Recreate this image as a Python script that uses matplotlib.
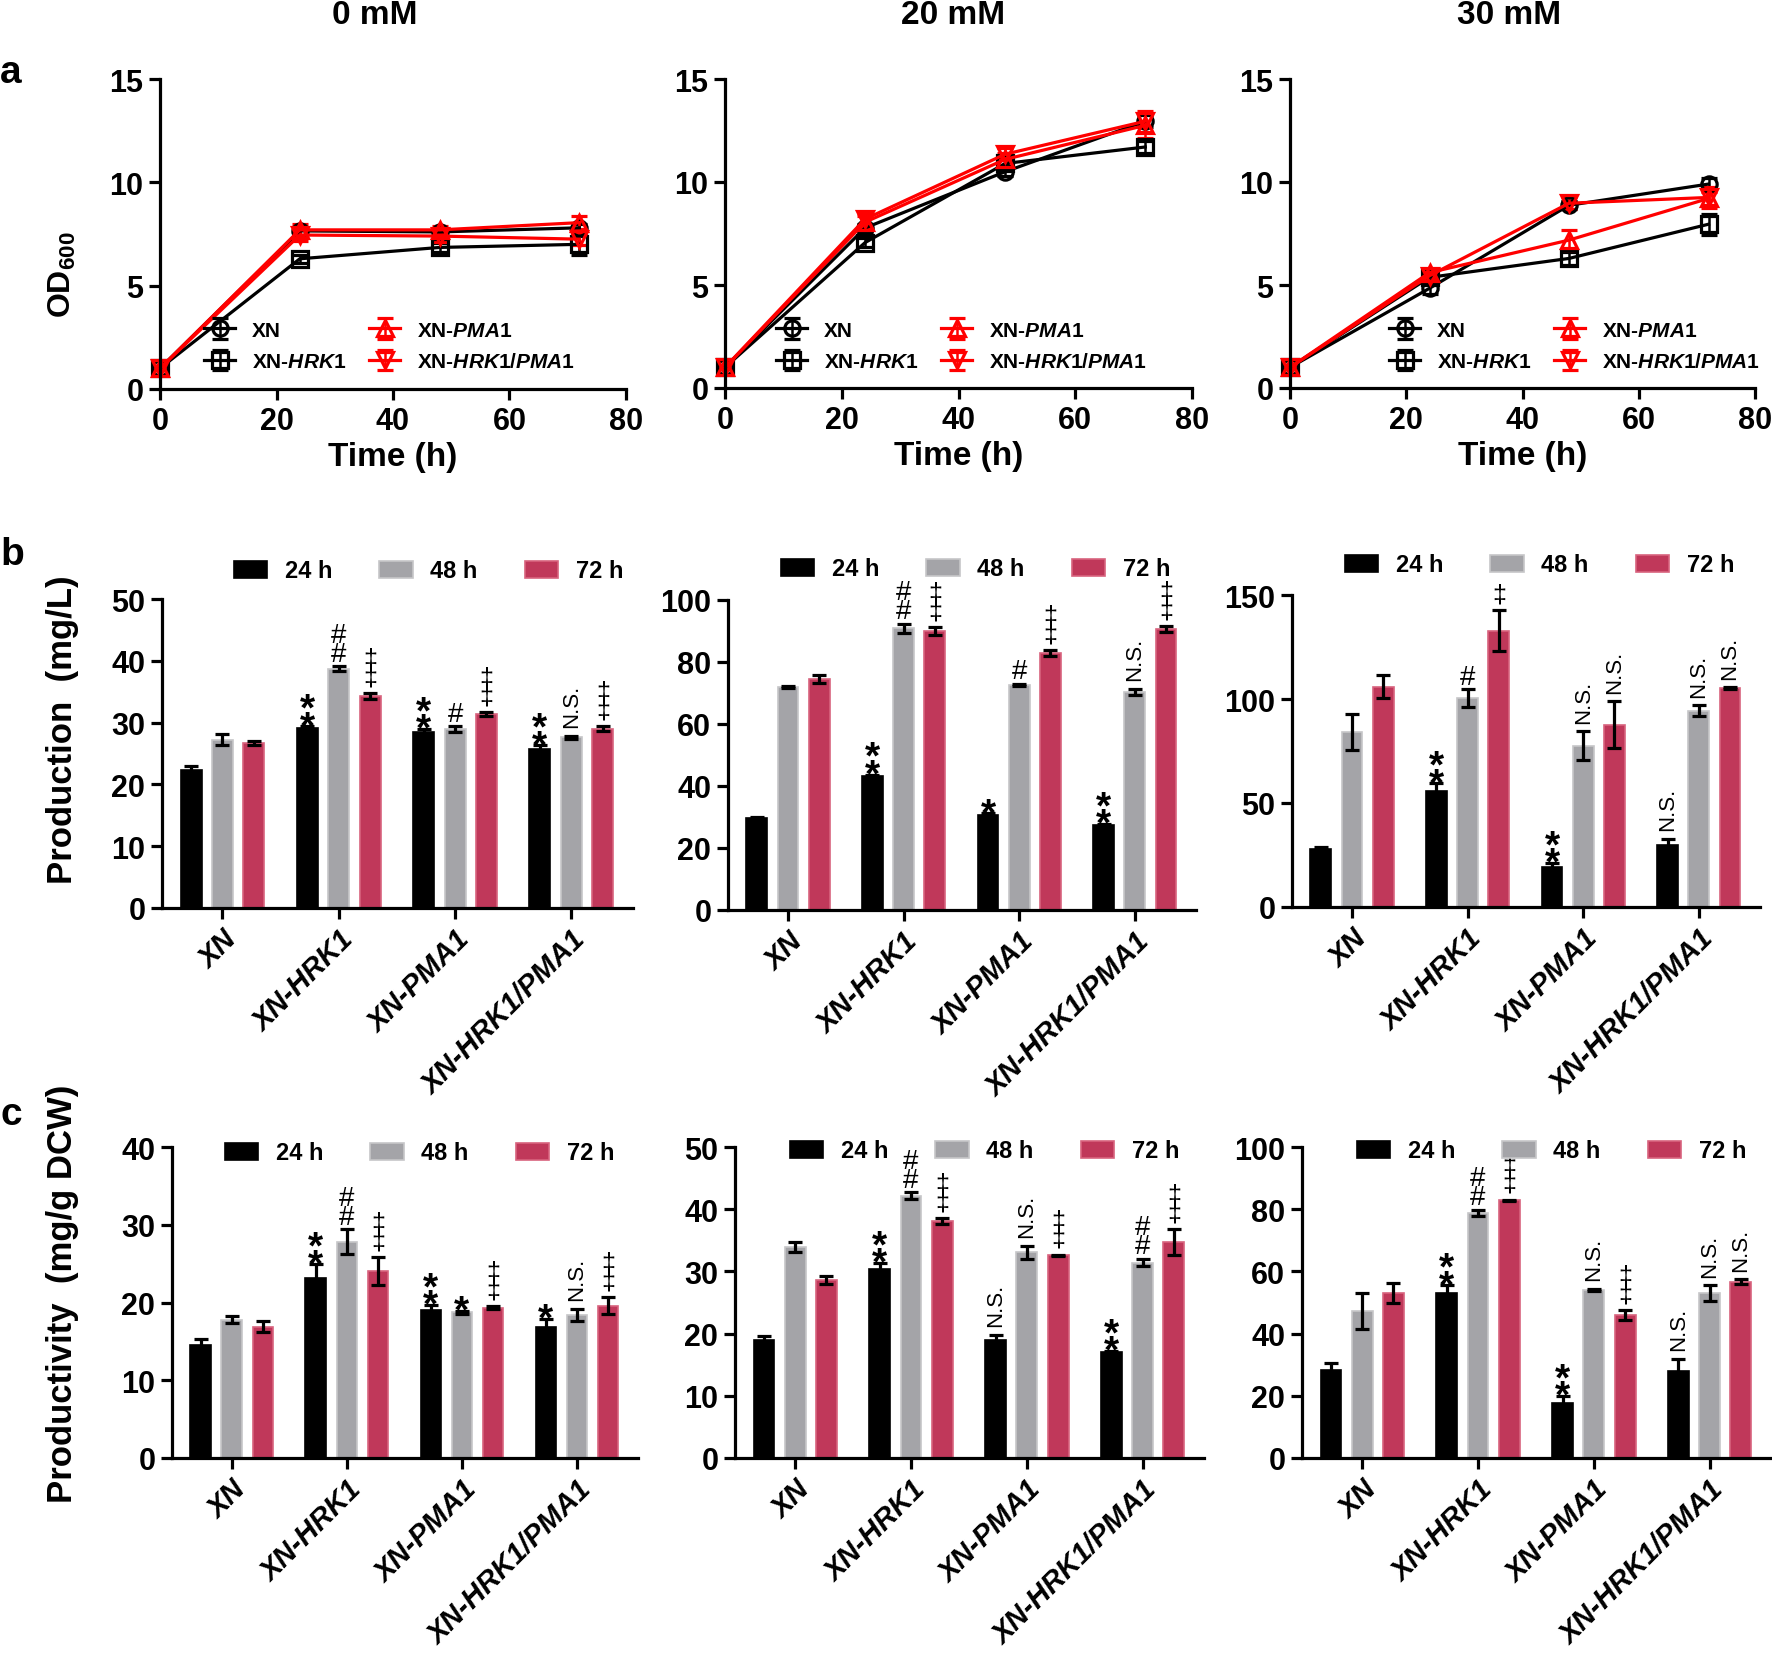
import numpy as np
import matplotlib
matplotlib.use('Agg')
import matplotlib.pyplot as plt

plt.rcParams['font.family'] = ['Liberation Sans', 'DejaVu Sans']
plt.rcParams['font.weight'] = 'bold'
plt.rcParams['axes.labelweight'] = 'bold'
plt.rcParams['mathtext.fontset'] = 'custom'
plt.rcParams['mathtext.rm'] = 'Liberation Sans:bold'
plt.rcParams['mathtext.it'] = 'Liberation Sans:italic:bold'
plt.rcParams['mathtext.bf'] = 'Liberation Sans:bold'

# ---- data ----
time_h = [0, 24, 48, 72]
strains = ['XN', 'XN-HRK1', 'XN-PMA1', 'XN-HRK1/PMA1']
times = ['24 h', '48 h', '72 h']

# OD600 growth curves, one row per strain (XN, HRK1, PMA1, HRK1/PMA1)
od_0mM = [[1.0, 7.65, 7.6, 7.8], [1.0, 6.3, 6.85, 7.0], [1.0, 7.7, 7.7, 8.05], [1.0, 7.45, 7.4, 7.25]]
od_0mM_err = [[0.1, 0.2, 0.2, 0.2], [0.1, 0.2, 0.2, 0.5], [0.1, 0.3, 0.2, 0.3], [0.1, 0.3, 0.3, 0.3]]
od_20mM = [[1.0, 7.77, 10.5, 12.95], [1.0, 7.06, 10.9, 11.7], [1.0, 8.05, 11.1, 12.75], [1.0, 8.2, 11.35, 12.95]]
od_20mM_err = [[0.1, 0.2, 0.2, 0.3], [0.1, 0.2, 0.2, 0.3], [0.1, 0.3, 0.3, 0.6], [0.1, 0.3, 0.3, 0.5]]
od_30mM = [[1.0, 4.84, 8.87, 9.9], [1.0, 5.37, 6.29, 7.95], [1.0, 5.6, 7.18, 9.2], [1.0, 5.45, 8.97, 9.25]]
od_30mM_err = [[0.1, 0.3, 0.2, 0.3], [0.1, 0.2, 0.3, 0.5], [0.1, 0.2, 0.5, 0.3], [0.1, 0.2, 0.3, 0.5]]

# production (mg/L), one row per time point (24, 48, 72 h)
prod_0mM = [[22.4, 29.1, 28.4, 25.8], [27.2, 38.7, 28.9, 27.6], [26.75, 34.25, 31.4, 29.0]]
prod_0mM_err = [[0.5, 0.3, 0.6, 0.5], [0.9, 0.4, 0.5, 0.3], [0.3, 0.5, 0.3, 0.4]]
prod_0mM_sig = [['', '**', '**', '**'], ['', '##', '#', 'N.S.'], ['', '‡‡', '‡‡', '‡‡']]

prod_20mM = [[29.8, 43.2, 30.75, 27.5], [71.9, 90.9, 72.7, 70.4], [74.5, 90.0, 82.9, 90.6]]
prod_20mM_err = [[0.3, 0.5, 0.4, 0.3], [0.3, 1.5, 0.3, 1.0], [1.2, 1.2, 1.0, 1.0]]
prod_20mM_sig = [['', '**', '*', '**'], ['', '##', '#', 'N.S.'], ['', '‡‡', '‡‡', '‡‡']]

prod_30mM = [[27.7, 56.0, 19.2, 29.9], [84.0, 100.5, 77.6, 94.4], [106.0, 132.9, 87.6, 105.3]]
prod_30mM_err = [[1.0, 3.5, 2.0, 3.0], [8.6, 4.2, 7.0, 2.5], [5.4, 9.9, 11.2, 0.5]]
prod_30mM_sig = [['', '**', '**', 'N.S.'], ['', '#', 'N.S.', 'N.S.'], ['', '‡', 'N.S.', 'N.S.']]

# productivity (mg/g DCW)
pdv_0mM = [[14.55, 23.1, 19.0, 16.9], [17.8, 27.8, 18.75, 18.4], [16.9, 24.0, 19.35, 19.6]]
pdv_0mM_err = [[0.7, 1.8, 0.7, 1.0], [0.5, 1.6, 0.2, 0.8], [0.7, 1.8, 0.2, 1.1]]
pdv_0mM_sig = [['', '**', '**', '*'], ['', '##', '*', 'N.S.'], ['', '‡‡', '‡‡', '‡‡']]

pdv_20mM = [[19.05, 30.4, 19.05, 17.0], [33.85, 42.2, 33.05, 31.4], [28.65, 38.1, 32.6, 34.7]]
pdv_20mM_err = [[0.5, 1.0, 0.8, 0.2], [0.8, 0.5, 1.1, 0.6], [0.6, 0.5, 0.1, 2.1]]
pdv_20mM_sig = [['', '**', 'N.S.', '**'], ['', '##', 'N.S.', '##'], ['', '‡‡', '‡‡', '‡‡']]

pdv_30mM = [[28.4, 53.1, 17.7, 28.1], [47.2, 78.75, 54.0, 53.1], [53.1, 82.8, 46.0, 56.65]]
pdv_30mM_err = [[2.0, 2.4, 2.3, 3.8], [5.8, 1.0, 0.4, 2.5], [3.3, 0.3, 1.5, 0.8]]
pdv_30mM_sig = [['', '**', '**', 'N.S.'], ['', '##', 'N.S.', 'N.S.'], ['', '‡‡', '‡‡', 'N.S.']]

# ---- figure ----
W, H = 1772, 1656
fig = plt.figure(figsize=(W / 100, H / 100), dpi=100)


def axes_px(l, r, t, b):
    return fig.add_axes([l / W, 1 - b / H, (r - l) / W, (b - t) / H])


def style_axes(ax):
    for s in ['top', 'right']:
        ax.spines[s].set_visible(False)
    for s in ['left', 'bottom']:
        ax.spines[s].set_linewidth(2.3)
    ax.tick_params(width=2.3, length=8, labelsize=22, pad=4)


line_styles = [('XN', 'black', 'o'),
               ('XN-$\\mathit{HRK1}$', 'black', 's'),
               ('XN-$\\mathit{PMA1}$', '#ff0000', '^'),
               ('XN-$\\mathit{HRK1/PMA1}$', '#ff0000', 'v')]


def line_panel(box, vals, errs, leg_x):
    ax = axes_px(*box)
    for (lab, col, mk), v, e in zip(line_styles, vals, errs):
        cont = ax.errorbar(time_h, v, yerr=e, color=col, marker=mk, ms=11, mfc='none',
                           mew=2.3, lw=2.3, capsize=6, elinewidth=1.8, capthick=1.8, label=lab)
        for art in cont.get_children():
            art.set_clip_on(False)
    ax.set_xlim(0, 80)
    ax.set_ylim(0, 15)
    ax.set_xticks([0, 20, 40, 60, 80])
    ax.set_yticks([0, 5, 10, 15])
    style_axes(ax)
    ax.set_xlabel('Time (h)', fontsize=24, labelpad=4)
    ax.legend(loc='center left', bbox_to_anchor=(leg_x / W, 1 - 347 / H),
              bbox_transform=fig.transFigure, ncol=2, frameon=False, fontsize=15,
              borderpad=0, borderaxespad=0, handlelength=1.5, handletextpad=0.8,
              columnspacing=1.1, labelspacing=0.6)
    return ax


bar_colors = [('black', 'black'), ('#a4a4a8', '#c6c6c8'), ('#c0385a', '#d8637e')]

# fontsize, weight, line spacing, extra vertical shift (in font sizes) for stacked symbols
sym_style = {'*': (28, 'bold', 0.34, -0.63),
             '#': (20, 'normal', 0.64, -0.21),
             '‡': (18, 'normal', 0.72, -0.07)}


def mark_sig(ax, x, y, s):
    if s == 'N.S.':
        ax.annotate(s, (x, y), xytext=(0, 6), textcoords='offset points', rotation=90,
                    ha='center', va='bottom', fontsize=16, fontweight='normal',
                    annotation_clip=False)
        return
    fs, fw, ls, shift = sym_style[s[0]]
    ax.annotate('\n'.join(s), (x, y), xytext=(0, 4 + shift * fs), textcoords='offset points',
                ha='center', va='bottom', multialignment='center', linespacing=ls,
                fontsize=fs, fontweight=fw, annotation_clip=False)


def bar_panel(box, vals, errs, sigs, ymax, ystep, leg_pos):
    ax = axes_px(*box)
    x = np.arange(len(strains))
    for i, (lab, (fc, ec)) in enumerate(zip(times, bar_colors)):
        xs = x + (i - 1) * 0.27
        ax.bar(xs, vals[i], 0.18, color=fc, edgecolor=ec, lw=1.2, label=lab, zorder=2)
        ax.errorbar(xs, vals[i], yerr=errs[i], fmt='none', ecolor='black',
                    elinewidth=2.3, capsize=5, capthick=2.3, zorder=3)
        for j, s in enumerate(sigs[i]):
            if s:
                mark_sig(ax, xs[j], vals[i][j] + errs[i][j], s)
    ax.set_xlim(-0.52, 3.53)
    ax.set_ylim(0, ymax)
    ax.set_yticks(np.arange(0, ymax + 1, ystep))
    ax.set_xticks(x)
    style_axes(ax)
    ax.set_xticklabels(strains, rotation=45, ha='right', rotation_mode='anchor',
                       fontstyle='italic', fontsize=21)
    ax.legend(loc='center left', bbox_to_anchor=(leg_pos[0] / W, 1 - leg_pos[1] / H),
              bbox_transform=fig.transFigure, ncol=3, frameon=False, fontsize=17,
              borderpad=0, borderaxespad=0, handlelength=1.4, handleheight=0.75,
              handletextpad=0.75, columnspacing=2.0)
    return ax


# row a: growth
line_panel((160, 626, 80, 390), od_0mM, od_0mM_err, 204)
line_panel((725, 1192, 80, 389), od_20mM, od_20mM_err, 776)
line_panel((1290, 1755, 80, 389), od_30mM, od_30mM_err, 1389)

# row b: production
bar_panel((162, 633, 600, 909), prod_0mM, prod_0mM_err, prod_0mM_sig, 50, 10, (234, 572))
bar_panel((728, 1196, 601, 911), prod_20mM, prod_20mM_err, prod_20mM_sig, 100, 20, (781, 570))
bar_panel((1292, 1760, 596, 908), prod_30mM, prod_30mM_err, prod_30mM_sig, 150, 50, (1345, 566))

# row c: productivity
bar_panel((172, 638, 1148, 1459), pdv_0mM, pdv_0mM_err, pdv_0mM_sig, 40, 10, (225, 1154))
bar_panel((735, 1204, 1148, 1459), pdv_20mM, pdv_20mM_err, pdv_20mM_sig, 50, 10, (790, 1152))
bar_panel((1302, 1771, 1148, 1459), pdv_30mM, pdv_30mM_err, pdv_30mM_sig, 100, 20, (1357, 1152))

# titles, y labels and panel letters
for xc, t in zip([375, 953, 1509], ['0 mM', '20 mM', '30 mM']):
    fig.text(xc / W, 1 - 15 / H, t, ha='center', va='center', fontsize=24)
fig.text(62 / W, 1 - 275 / H, 'OD$_{600}$', rotation=90, ha='center', va='center', fontsize=23)
fig.text(63 / W, 1 - 730 / H, 'Production  (mg/L)', rotation=90, ha='center', va='center', fontsize=25)
fig.text(63 / W, 1 - 1294 / H, 'Productivity  (mg/g DCW)', rotation=90, ha='center', va='center', fontsize=25)
for y, t in zip([73, 555, 1115], ['a', 'b', 'c']):
    fig.text(0, 1 - y / H, t, ha='left', va='center', fontsize=28)

fig.savefig('out.png', dpi=100)
